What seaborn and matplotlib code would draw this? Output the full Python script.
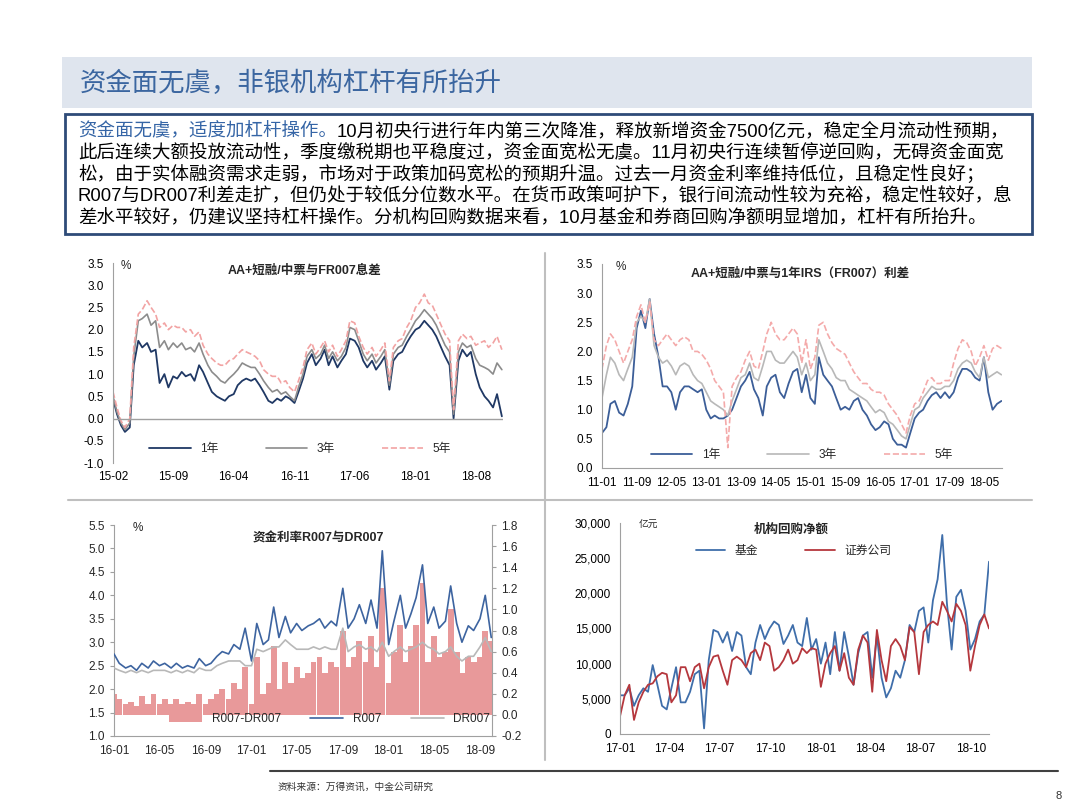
import numpy as np
import pandas as pd
import matplotlib
matplotlib.use("Agg")
import matplotlib.pyplot as plt
import matplotlib.dates as mdates
import matplotlib.ticker as mticker
from matplotlib.patches import Rectangle
from matplotlib.lines import Line2D
import seaborn as sns

# 数据：AA+短融/中票与FR007息差（半月）
fr_1y = [0.45, 0.1, -0.15, -0.3, -0.2, 1.2, 1.75, 1.6, 1.7, 1.5,
         1.55, 0.8, 1.0, 0.7, 0.95, 0.9, 1.05, 0.95, 1.0, 0.85,
         1.2, 1.05, 0.8, 0.6, 0.5, 0.45, 0.4, 0.5, 0.55, 0.75,
         0.85, 0.9, 0.85, 0.9, 0.75, 0.6, 0.4, 0.35, 0.45, 0.4,
         0.5, 0.45, 0.35, 0.6, 0.9, 1.25, 1.45, 1.2, 1.35, 1.55,
         1.2, 1.4, 1.15, 1.3, 1.45, 1.8, 1.75, 1.6, 1.3, 1.15,
         1.3, 1.1, 1.25, 1.4, 0.65, 1.3, 1.45, 1.5, 1.7, 1.85,
         2.0, 2.05, 2.2, 2.1, 2.0, 1.85, 1.6, 1.4, 1.2, 0.0,
         1.3, 1.55, 1.4, 1.5, 1.0, 0.7, 0.5, 0.4, 0.25, 0.55,
         0.05]
fr_3y = [0.5, 0.15, -0.1, -0.25, -0.1, 1.4, 2.2, 2.25, 2.35, 2.1,
         2.2, 1.6, 1.75, 1.55, 1.7, 1.6, 1.7, 1.55, 1.6, 1.5,
         1.7, 1.45, 1.2, 1.05, 0.95, 0.85, 0.8, 0.9, 1.0, 1.1,
         1.25, 1.2, 1.15, 1.15, 1.0, 0.85, 0.7, 0.6, 0.65, 0.55,
         0.6, 0.5, 0.4, 0.7, 1.0, 1.4, 1.55, 1.35, 1.45, 1.65,
         1.35, 1.5, 1.3, 1.4, 1.6, 2.05, 2.0, 1.75, 1.45, 1.3,
         1.45, 1.25, 1.4, 1.55, 0.75, 1.45, 1.6, 1.65, 1.85, 2.0,
         2.2, 2.3, 2.45, 2.35, 2.25, 2.1, 1.85, 1.65, 1.5, 0.1,
         1.5, 1.7, 1.6, 1.65, 1.35, 1.2, 1.15, 1.1, 1.0, 1.25,
         1.1]
fr_5y = [0.6, 0.25, -0.05, -0.2, 0.0, 1.6, 2.35, 2.45, 2.65, 2.5,
         2.35, 2.05, 2.15, 2.0, 2.1, 2.05, 2.05, 1.95, 2.0, 1.85,
         1.95, 1.65, 1.45, 1.35, 1.25, 1.2, 1.2, 1.3, 1.35, 1.45,
         1.55, 1.5, 1.45, 1.4, 1.3, 1.1, 1.0, 0.95, 0.95, 0.8,
         0.85, 0.7, 0.6, 0.85, 1.15, 1.55, 1.7, 1.45, 1.6, 1.75,
         1.5, 1.65, 1.4, 1.55, 1.75, 2.2, 2.15, 1.85, 1.6, 1.45,
         1.6, 1.4, 1.55, 1.7, 0.85, 1.6, 1.75, 1.8, 2.05, 2.2,
         2.5, 2.6, 2.8, 2.6, 2.55, 2.35, 2.1, 1.9, 1.75, 0.2,
         1.75, 1.9, 1.8, 1.85, 1.65, 1.7, 1.75, 1.6, 1.7, 1.85,
         1.55]

# 数据：AA+短融/中票与1年IRS(FR007)利差（月）
irs_1y = [0.6, 0.7, 1.1, 1.15, 0.95, 0.9, 1.1, 1.4, 2.4, 2.7,
          2.4, 2.9, 2.3, 1.9, 1.4, 1.4, 1.3, 1.0, 1.3, 1.4,
          1.4, 1.35, 1.3, 1.35, 1.0, 0.85, 0.9, 0.85, 0.85, 0.9,
          1.0, 1.2, 1.4, 1.5, 1.65, 1.35, 1.2, 0.9, 1.4, 1.55,
          1.6, 1.3, 1.2, 1.45, 1.65, 1.7, 1.3, 1.6, 1.2, 1.1,
          1.9, 1.6, 1.5, 1.4, 1.2, 1.0, 1.05, 1.0, 1.15, 1.2,
          1.0, 0.9, 0.75, 0.65, 0.7, 0.8, 0.75, 0.5, 0.4, 0.4,
          0.35, 0.6, 0.85, 0.95, 1.0, 1.15, 1.25, 1.3, 1.2, 1.3,
          1.2, 1.3, 1.55, 1.7, 1.7, 1.65, 1.55, 1.5, 1.9, 1.3,
          1.0, 1.1, 1.15]
irs_3y = [1.2, 1.6, 1.9, 1.8, 1.6, 1.5, 1.7, 1.9, 2.5, 2.6,
          2.5, 2.9, 2.1, 1.9, 1.8, 1.85, 1.75, 1.6, 1.75, 1.8,
          1.75, 1.6, 1.5, 1.45, 1.3, 1.15, 1.1, 1.05, 1.0, 0.9,
          1.15, 1.35, 1.55, 1.6, 1.8, 1.55, 1.5, 1.75, 2.0, 2.0,
          1.85, 1.8, 1.8, 1.9, 2.0, 1.9, 1.6, 1.8, 1.5, 1.6,
          2.2, 2.0, 1.8, 1.7, 1.55, 1.5, 1.5, 1.35, 1.3, 1.25,
          1.2, 1.15, 1.05, 0.95, 1.0, 0.95, 0.8, 0.75, 0.65, 0.55,
          0.5, 0.75, 1.0, 1.05, 1.2, 1.3, 1.4, 1.35, 1.35, 1.4,
          1.4, 1.5, 1.7, 1.8, 1.85, 1.8, 1.65, 1.55, 1.9, 1.55,
          1.6, 1.65, 1.6]
irs_5y = [1.7, 2.1, 2.3, 2.2, 2.0, 1.8, 2.0, 2.2, 2.6, 2.8,
          2.5, 2.85, 2.2, 2.1, 2.2, 2.3, 2.2, 2.1, 2.2, 2.25,
          2.2, 2.0, 2.0, 1.95, 1.85, 1.7, 1.5, 1.4, 1.3, 0.35,
          1.4, 1.55, 1.65, 1.85, 2.0, 1.75, 1.7, 2.0, 2.3, 2.5,
          2.3, 2.2, 2.2, 2.3, 2.4, 2.3, 1.8, 2.2, 1.7, 1.9,
          2.45, 2.5, 2.3, 2.15, 2.05, 2.0, 1.95, 1.8, 1.65, 1.55,
          1.45, 1.45, 1.35, 1.3, 1.3, 1.25, 1.1, 1.0, 0.9, 0.75,
          0.6, 0.9, 1.1, 1.15, 1.3, 1.5, 1.55, 1.45, 1.45, 1.5,
          1.5, 1.8, 2.05, 2.2, 2.15, 2.0, 1.75, 1.9, 2.1, 1.85,
          2.05, 2.1, 2.05]

# 数据：资金利率R007与DR007（半月）
r007 = [2.75, 2.55, 2.45, 2.5, 2.4, 2.55, 2.45, 2.6, 2.5, 2.55,
        2.45, 2.55, 2.45, 2.5, 2.45, 2.65, 2.5, 2.55, 2.7, 2.8,
        2.75, 2.95, 2.85, 3.3, 2.6, 3.4, 2.95, 3.05, 3.75, 3.1,
        3.55, 3.2, 3.4, 3.25, 3.35, 3.4, 3.5, 3.3, 3.45, 3.35,
        4.15, 3.3, 3.5, 3.8, 3.4, 3.9, 3.3, 4.95, 2.95, 3.45,
        4.0, 3.3, 3.6, 3.95, 4.65, 3.4, 3.75, 3.3, 3.45, 4.2,
        3.4, 3.0, 3.35, 3.25, 3.5, 4.0, 3.1]
dr007 = [2.45, 2.4, 2.35, 2.4, 2.35, 2.4, 2.35, 2.4, 2.4, 2.4,
         2.35, 2.4, 2.35, 2.4, 2.35, 2.45, 2.4, 2.4, 2.5, 2.55,
         2.6, 2.6, 2.6, 2.5, 2.5, 2.85, 2.8, 2.85, 2.9, 2.9,
         3.05, 2.95, 2.85, 2.85, 2.85, 2.9, 2.85, 2.9, 2.85, 2.85,
         3.3, 2.8, 2.9, 2.95, 2.85, 2.9, 2.8, 3.0, 2.7, 2.8,
         2.9, 2.8, 2.85, 2.9, 3.0, 2.9, 2.85, 2.75, 2.8, 2.9,
         2.7, 2.6, 2.7, 2.7, 2.9, 3.1, 2.8]
spread = [0.2, 0.15, 0.1, 0.12, 0.08, 0.18, 0.1, 0.2, 0.1, 0.15,
          0.1, 0.15, 0.1, 0.12, 0.1, 0.2, 0.1, 0.15, 0.2, 0.25,
          0.15, 0.3, 0.25, 0.45, 0.1, 0.55, 0.2, 0.3, 0.65, 0.25,
          0.5, 0.3, 0.45, 0.35, 0.4, 0.5, 0.55, 0.4, 0.5, 0.45,
          0.8, 0.45, 0.55, 0.7, 0.5, 0.75, 0.45, 1.2, 0.3, 0.6,
          0.85, 0.5, 0.65, 0.85, 1.25, 0.5, 0.75, 0.55, 0.6, 1.0,
          0.6, 0.4, 0.55, 0.5, 0.55, 0.8, 0.7]

# 数据：机构回购净额（亿元，约每周）
fund = [5500, 5500, 6500, 4000, 5500, 6500, 6000, 9800, 7000, 4000,
        3500, 6500, 9500, 4500, 4500, 6000, 8500, 9000, 800, 10500,
        14800, 14500, 13000, 14500, 11800, 14500, 14000, 9500, 8500, 13000,
        15500, 13500, 15000, 16000, 15500, 12800, 14000, 15500, 13000, 12500,
        16500, 12000, 13500, 10000, 13000, 8500, 14500, 9000, 14500, 11000,
        7000, 11500, 14000, 14500, 8000, 14000, 8000, 5200, 6500, 9000,
        8000, 10500, 15500, 14500, 17500, 18000, 13000, 19000, 22000, 28300,
        18500, 12000, 19500, 20500, 17500, 12000, 13500, 16000, 17000, 24500]
broker = [2500, 5500, 7000, 2000, 4500, 6000, 7000, 7200, 8200, 8700,
          8500, 4500, 5500, 9500, 9500, 7500, 9500, 10000, 6500, 9500,
          11000, 11200, 9000, 7000, 10500, 11000, 10500, 9500, 11500, 12000,
          10500, 13000, 12500, 9000, 9500, 10500, 12000, 10000, 10500, 12200,
          11500, 12200, 12000, 6700, 10000, 11500, 12500, 9000, 11500, 8000,
          7000, 12000, 14000, 13000, 6000, 14800, 10500, 7500, 12500, 13500,
          12500, 10500, 15200, 14500, 8500, 14500, 15500, 16000, 15500, 18800,
          17500, 16000, 18500, 17500, 15500, 9000, 12500, 15500, 17000, 15000]

title = "资金面无虞，非银机构杠杆有所抬升"
lead = "资金面无虞，适度加杠杆操作。"
body = [
    "10月初央行进行年内第三次降准，释放新增资金7500亿元，稳定全月流动性预期，",
    "此后连续大额投放流动性，季度缴税期也平稳度过，资金面宽松无虞。11月初央行连续暂停逆回购，无碍资金面宽",
    "松，由于实体融资需求走弱，市场对于政策加码宽松的预期升温。过去一月资金利率维持低位，且稳定性良好；",
    "R007与DR007利差走扩，但仍处于较低分位数水平。在货币政策呵护下，银行间流动性较为充裕，稳定性较好，息",
    "差水平较好，仍建议坚持杠杆操作。分机构回购数据来看，10月基金和券商回购净额明显增加，杠杆有所抬升。",
]

sns.set_style("white")
plt.rcParams["font.family"] = ["Liberation Sans", "Noto Sans CJK SC", "DejaVu Sans"]
plt.rcParams["axes.unicode_minus"] = False

W, H = 1080, 810
fig = plt.figure(figsize=(10.8, 8.1), dpi=100)


def fx(x):
    return x / W


def fy(y):
    return 1 - y / H


def add_axes(l, t, r, b):
    return fig.add_axes([fx(l), fy(b), (r - l) / W, (b - t) / H])


def style(ax, bottom=True):
    for s in ["top", "right"]:
        ax.spines[s].set_visible(False)
    ax.spines["left"].set_color("#A0A0A0")
    ax.spines["bottom"].set_color("#A0A0A0")
    ax.spines["bottom"].set_visible(bottom)
    ax.tick_params(labelsize=8.5, length=3, color="#A0A0A0", labelcolor="black")
    ax.set_xlabel("")
    ax.set_ylabel("")


# 标题栏和文字框
fig.add_artist(Rectangle((fx(62), fy(108)), (1032 - 62) / W, (108 - 57) / H,
                         transform=fig.transFigure, facecolor="#DFE5EE", edgecolor="none"))
fig.text(fx(80), fy(83), title, fontsize=19, color="#3B66A0", va="center",
         family=["Noto Sans CJK SC"], fontweight="medium")
fig.add_artist(Rectangle((fx(65), fy(234)), (1032 - 65) / W, (234 - 114) / H,
                         transform=fig.transFigure, facecolor="none",
                         edgecolor="#2E4B78", lw=2))

t0 = fig.text(fx(78), fy(131), lead, fontsize=13.3, color="#3565A6", va="center")
fig.canvas.draw()
bb = t0.get_window_extent()
fig.text(bb.x1 / W, fy(131), body[0], fontsize=13.3, color="black", va="center")
for i, line in enumerate(body[1:]):
    fig.text(fx(78), fy(153 + 22 * i), line, fontsize=13.3, color="black", va="center")

# 分隔线
fig.add_artist(Line2D([fx(545), fx(545)], [fy(253), fy(760)], transform=fig.transFigure,
                      color="#BFBFBF", lw=1.5))
fig.add_artist(Line2D([fx(68), fx(1032)], [fy(500), fy(500)], transform=fig.transFigure,
                      color="#BFBFBF", lw=1.5))
fig.add_artist(Line2D([fx(270), fx(1058)], [fy(771), fy(771)], transform=fig.transFigure,
                      color="#404040", lw=1.5))
fig.text(fx(278), fy(787), "资料来源：万得资讯，中金公司研究", fontsize=7, color="#333333", va="center")
fig.text(fx(1062), fy(796), "8", fontsize=8, color="#333333", va="center", ha="right")

fmt1 = mticker.FormatStrFormatter("%.1f")

# 图1
ax1 = add_axes(113, 263, 503, 463)
d1 = pd.date_range("2015-02-01", periods=len(fr_1y), freq="SMS")
sns.lineplot(x=d1, y=fr_1y, ax=ax1, color="#1F3864", lw=1.3, label="1年")
sns.lineplot(x=d1, y=fr_3y, ax=ax1, color="#8C8C8C", lw=1.2, label="3年")
sns.lineplot(x=d1, y=fr_5y, ax=ax1, color="#F2A3A3", lw=1.2, ls="--", label="5年")
style(ax1, bottom=False)
ax1.axhline(0, color="#A0A0A0", lw=1)
ax1.set_ylim(-1, 3.5)
ax1.set_yticks(np.arange(-1, 3.51, 0.5))
ax1.yaxis.set_major_formatter(fmt1)
ax1.set_xlim(pd.Timestamp("2015-02-01"), pd.Timestamp("2018-11-05"))
ax1.set_xticks(pd.date_range("2015-02-01", periods=7, freq="7MS"))
ax1.xaxis.set_major_formatter(mdates.DateFormatter("%y-%m"))
ax1.tick_params(axis="x", length=0, pad=6)
ax1.text(0.49, 0.96, "AA+短融/中票与FR007息差", transform=ax1.transAxes, ha="center",
         va="center", fontsize=9, fontweight="bold")
ax1.text(0.02, 0.985, "%", transform=ax1.transAxes, ha="left", va="center", fontsize=8.5)
ax1.legend(loc="center", bbox_to_anchor=(0.48, 0.07), ncol=3, frameon=False, fontsize=8.5,
           handlelength=3.5, columnspacing=4)

# 图2
ax2 = add_axes(602, 264, 1002, 468)
d2 = pd.date_range("2011-01-01", periods=len(irs_1y), freq="MS")
sns.lineplot(x=d2, y=irs_1y, ax=ax2, color="#3C5E98", lw=1.3, label="1年")
sns.lineplot(x=d2, y=irs_3y, ax=ax2, color="#B8B8B8", lw=1.2, label="3年")
sns.lineplot(x=d2, y=irs_5y, ax=ax2, color="#F4AAAA", lw=1.2, ls="--", label="5年")
style(ax2)
ax2.set_ylim(0, 3.5)
ax2.set_yticks(np.arange(0, 3.51, 0.5))
ax2.yaxis.set_major_formatter(fmt1)
ax2.set_xlim(pd.Timestamp("2011-01-01"), pd.Timestamp("2018-09-05"))
ax2.set_xticks(pd.date_range("2011-01-01", periods=12, freq="8MS"))
ax2.xaxis.set_major_formatter(mdates.DateFormatter("%y-%m"))
ax2.text(0.495, 0.955, "AA+短融/中票与1年IRS（FR007）利差", transform=ax2.transAxes,
         ha="center", va="center", fontsize=9, fontweight="bold")
ax2.text(0.035, 0.985, "%", transform=ax2.transAxes, ha="left", va="center", fontsize=8.5)
ax2.legend(loc="center", bbox_to_anchor=(0.5, 0.065), ncol=3, frameon=False, fontsize=8.5,
           handlelength=3.5, columnspacing=4)

# 图3：柱子用右轴，折线用左轴
ax3 = add_axes(114, 525, 492, 736)
d3 = pd.date_range("2016-01-01", periods=len(r007), freq="SMS")
bars = ax3.bar(d3, spread, width=15.5, color="#E8999A", linewidth=0, label="R007-DR007")
ax3b = ax3.twinx()
ax3.yaxis.tick_right()
ax3.yaxis.set_label_position("right")
ax3b.yaxis.tick_left()
ax3b.yaxis.set_label_position("left")
ax3.set_ylim(-0.2, 1.8)
ax3.set_yticks(np.arange(-0.2, 1.81, 0.2))
ax3.yaxis.set_major_formatter(fmt1)
ax3.spines["top"].set_visible(False)
for s in ["left", "right", "bottom"]:
    ax3.spines[s].set_color("#A0A0A0")
ax3.tick_params(labelsize=8.5, length=3, color="#A0A0A0")
sns.lineplot(x=d3, y=r007, ax=ax3b, color="#3D64A0", lw=1.2, label="R007")
sns.lineplot(x=d3, y=dr007, ax=ax3b, color="#B8B8B8", lw=1.2, label="DR007")
for s in ax3b.spines.values():
    s.set_visible(False)
ax3b.set_ylabel("")
ax3b.set_ylim(1.0, 5.5)
ax3b.set_yticks(np.arange(1.0, 5.51, 0.5))
ax3b.yaxis.set_major_formatter(fmt1)
ax3b.tick_params(labelsize=8.5, length=3, color="#A0A0A0")
ax3.set_xlim(pd.Timestamp("2016-01-01"), pd.Timestamp("2018-10-03"))
ax3.set_xticks(pd.date_range("2016-01-01", periods=9, freq="4MS"))
ax3.xaxis.set_major_formatter(mdates.DateFormatter("%y-%m"))
ax3b.text(0.54, 0.935, "资金利率R007与DR007", transform=ax3b.transAxes, ha="center",
          va="center", fontsize=9, fontweight="bold")
ax3b.text(0.05, 0.985, "%", transform=ax3b.transAxes, ha="left", va="center", fontsize=8.5)
ax3b.legend(handles=[bars] + ax3b.get_lines()[:2], labels=["R007-DR007", "R007", "DR007"],
            loc="center", bbox_to_anchor=(0.57, 0.08), ncol=3, frameon=False, fontsize=8.5,
            handlelength=2.8, columnspacing=2.5)

# 图4
ax4 = add_axes(620, 523, 989, 734)
d4 = pd.date_range("2017-01-01", "2018-11-03", periods=len(fund))
sns.lineplot(x=d4, y=fund, ax=ax4, color="#3F6EAA", lw=1.3, label="基金")
sns.lineplot(x=d4, y=broker, ax=ax4, color="#B5373D", lw=1.3, label="证券公司")
style(ax4)
ax4.set_ylim(0, 30000)
ax4.set_yticks(np.arange(0, 30001, 5000))
ax4.yaxis.set_major_formatter(mticker.FuncFormatter(lambda v, p: f"{v:,.0f}"))
ax4.set_xlim(pd.Timestamp("2017-01-01"), pd.Timestamp("2018-11-03"))
ax4.set_xticks(pd.date_range("2017-01-01", periods=8, freq="3MS"))
ax4.xaxis.set_major_formatter(mdates.DateFormatter("%y-%m"))
ax4.text(0.465, 0.97, "机构回购净额", transform=ax4.transAxes, ha="center", va="center",
         fontsize=9, fontweight="bold")
ax4.text(0.05, 0.99, "亿元", transform=ax4.transAxes, ha="left", va="center", fontsize=7)
ax4.legend(loc="center", bbox_to_anchor=(0.47, 0.865), ncol=2, frameon=False, fontsize=8.5,
           handlelength=2.5, columnspacing=4)

fig.savefig("out.png", dpi=100)
